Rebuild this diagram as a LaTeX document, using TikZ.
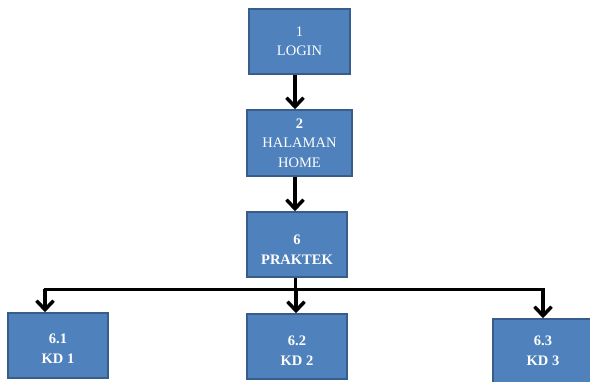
\documentclass[tikz,border=0pt]{standalone}
\usepackage{fontspec}
\setmainfont{Liberation Serif}
\usetikzlibrary{arrows.meta}
\definecolor{boxfill}{HTML}{4F81BD}
\definecolor{boxline}{HTML}{385D8A}
\begin{document}
\begin{tikzpicture}[x=1pt,y=-1pt,
  box/.style={draw=boxline, line width=1.5pt, fill=boxfill, text=white, align=center,
    font=\fontsize{14.5}{19.5}\selectfont, inner sep=0pt},
  bbox/.style={box, font=\fontsize{14.5}{19.5}\selectfont\bfseries},
  txt/.style={text=white, align=center, inner sep=0pt, font=\fontsize{14.5}{19.5}\selectfont\bfseries},
  conn/.style={line width=4pt, -{Straight Barb[length=9pt,width=17pt,line width=3.5pt]}},
  plain/.style={line width=3pt}]
\useasboundingbox (0,0) rectangle (590,381);
\node[box, minimum width=101pt, minimum height=65pt] (n1) at (299.5,41.5) {1\\LOGIN};
\node[box, minimum width=105pt, minimum height=66pt] (n2) at (299.5,143) {\textbf{2}\\HALAMAN\\HOME};
\node[bbox, minimum width=100pt, minimum height=65pt,
  label={[txt, yshift=-5pt]center:6\\PRAKTEK}] (n6) at (297,244.5) {};
\node[bbox, minimum width=100pt, minimum height=65pt,
  label={[txt, yshift=-3pt]center:6.1\\KD 1}] (k1) at (58,345.5) {};
\node[bbox, minimum width=100pt, minimum height=65pt,
  label={[txt, yshift=-4pt]center:6.2\\KD 2}] (k2) at (297,346.5) {};
\node[bbox, minimum width=100pt, minimum height=64pt] (k3) at (543,351) {6.3\\KD 3};
\coordinate (c) at (295,0);
\coordinate (j) at (295,289);
\coordinate (jl) at (45,289);
\coordinate (jr) at (543,289);
\coordinate (jm) at (296,289);
\draw[conn] (n1.south -| c) -- (n2.north -| c);
\draw[conn] (n2.south -| c) -- (n6.north -| c);
\draw[plain] (n6.south -| c) -- (j);
\draw[plain] ([xshift=-1.5pt]jl) -- ([xshift=1.5pt]jr);
\draw[conn] (jl) -- (k1.north -| jl);
\draw[conn] (jm) -- (k2.north -| jm);
\draw[conn] (jr) -- (k3.north -| jr);
\end{tikzpicture}
\end{document}
